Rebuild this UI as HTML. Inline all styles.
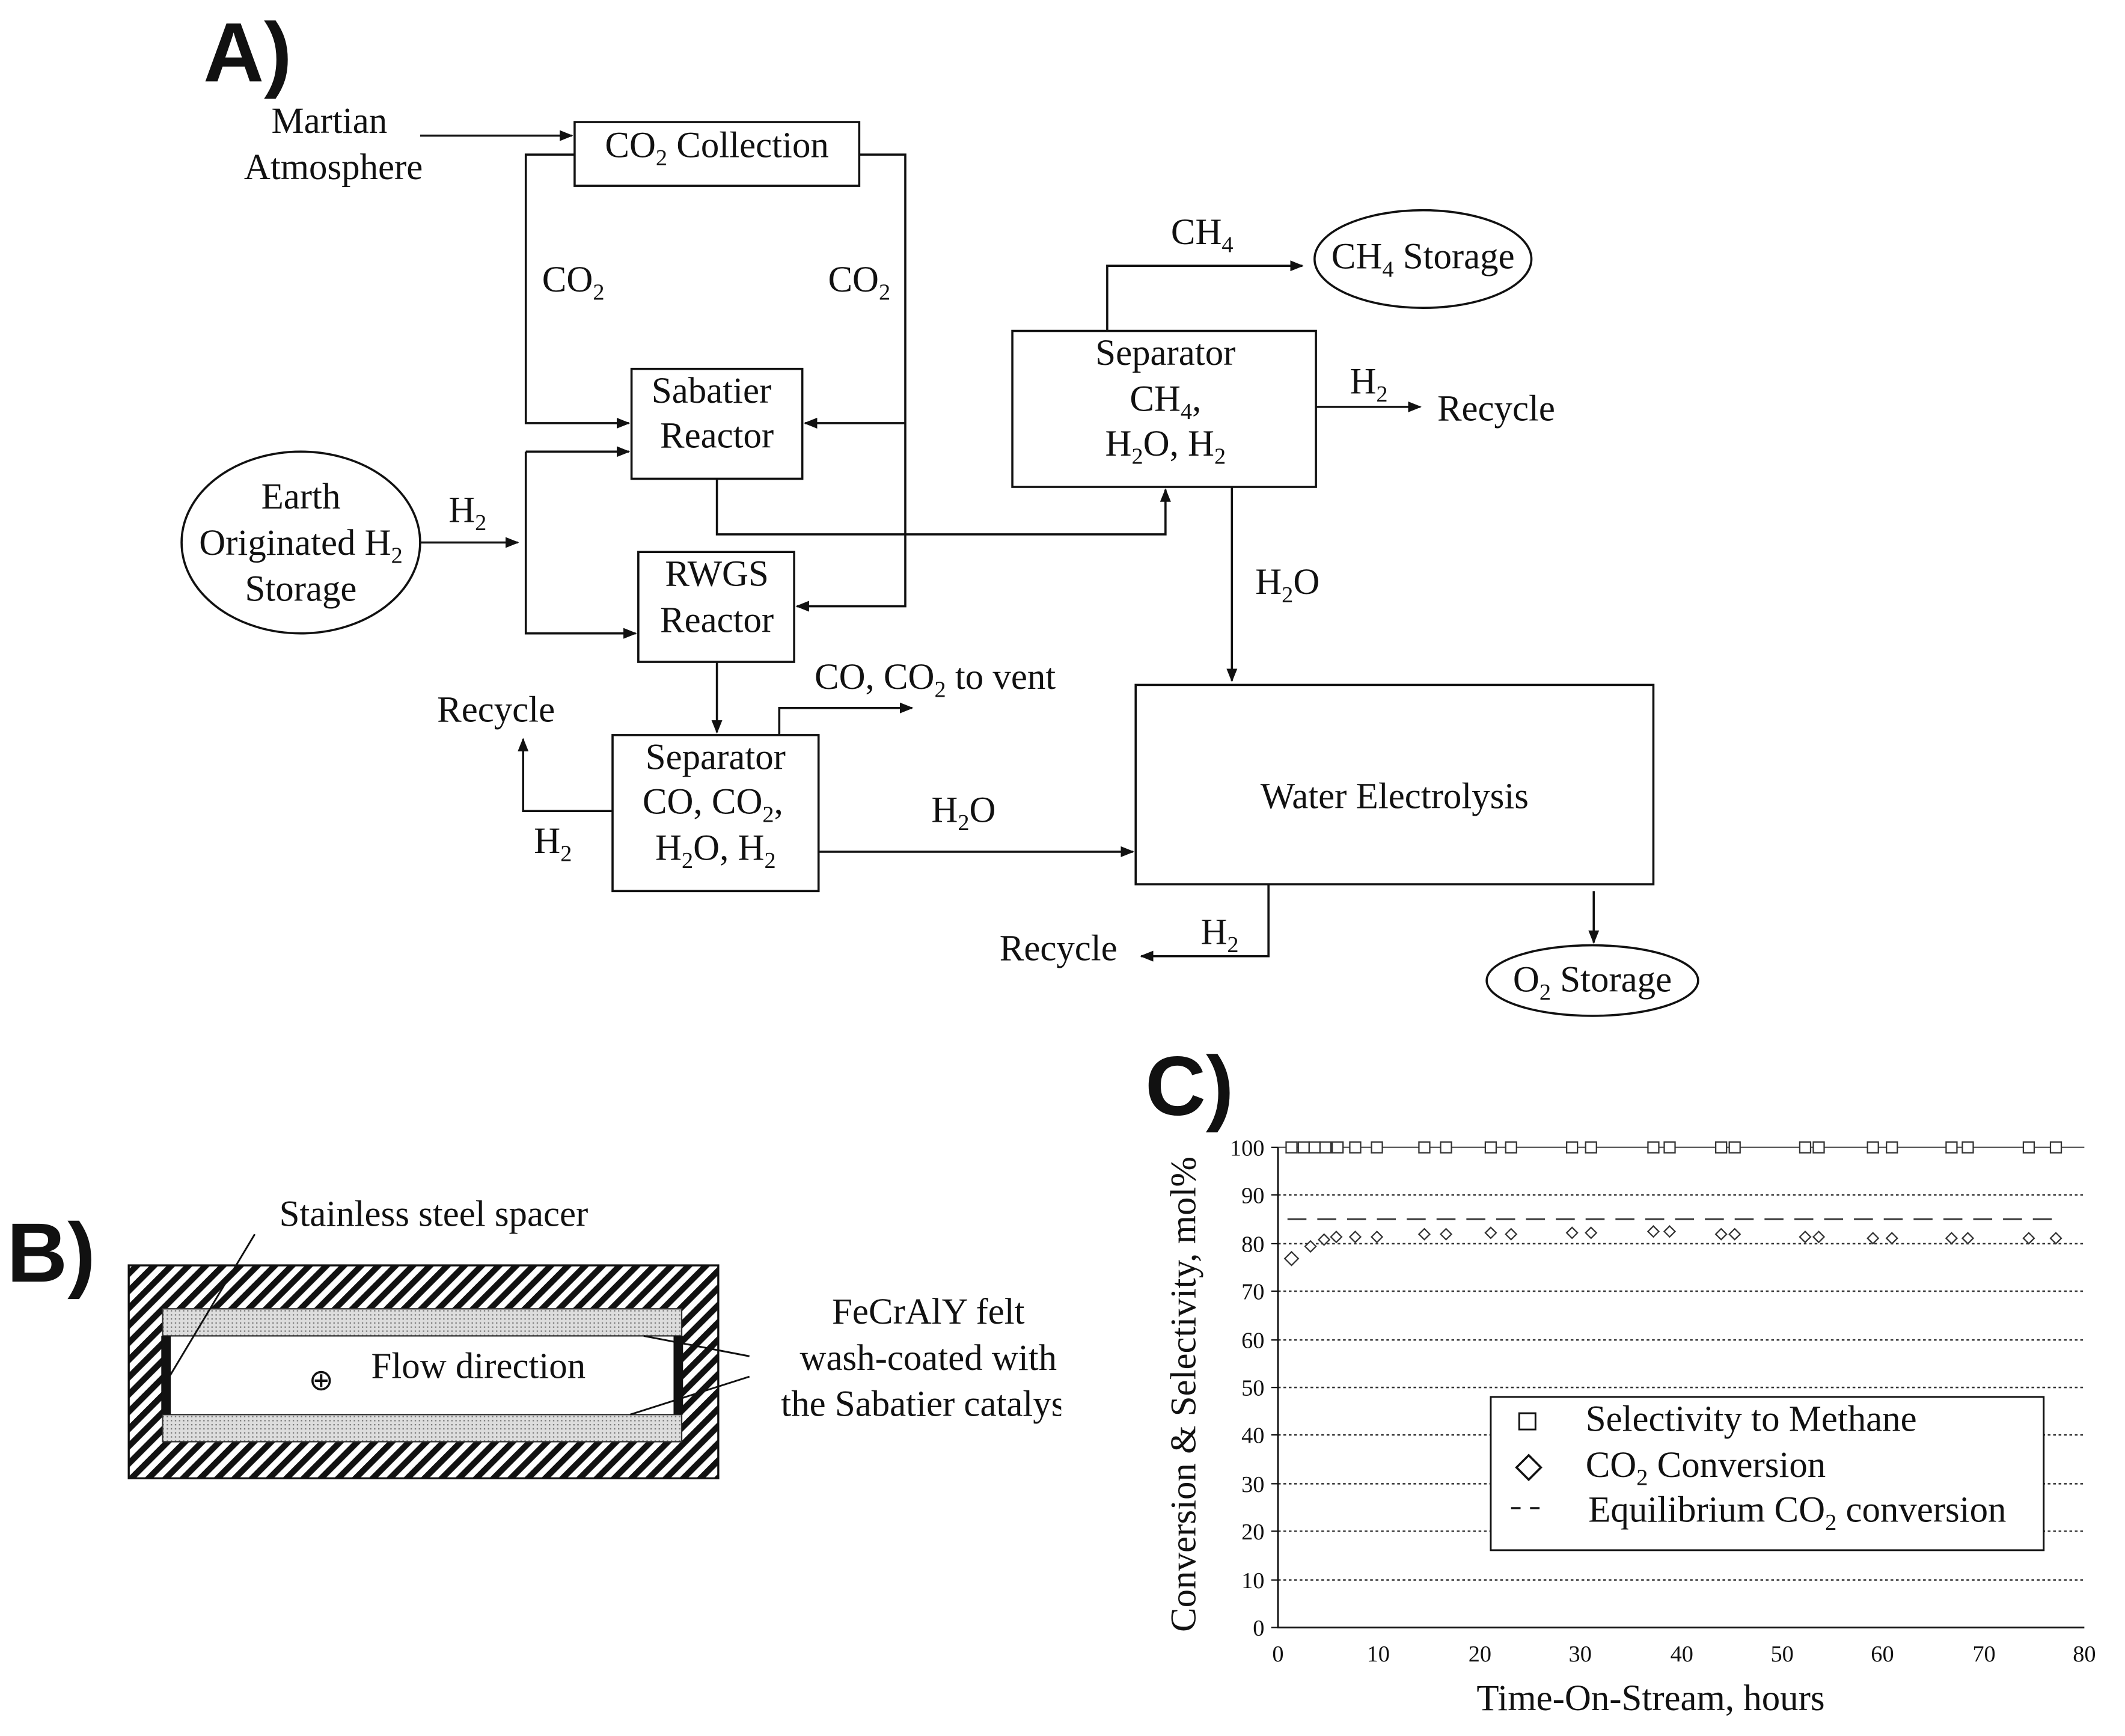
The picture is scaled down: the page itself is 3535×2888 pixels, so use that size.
<!DOCTYPE html>
<html><head><meta charset="utf-8"><style>
html,body{margin:0;padding:0;background:#fff}
svg{display:block}
text{font-family:"Liberation Serif",serif;fill:#111}
.s{font-size:27px}
.b{font-family:"Liberation Sans",sans-serif;font-weight:bold;font-size:62px}
.t{font-size:17px}
</style></head><body>
<svg width="3535" height="2888" viewBox="0 0 1568 1280" preserveAspectRatio="none" xmlns="http://www.w3.org/2000/svg">
<defs>
<marker id="a" markerWidth="10" markerHeight="8" refX="9" refY="4" orient="auto" markerUnits="userSpaceOnUse"><path d="M0,0 L10,4 L0,8z" fill="#111"/></marker>
<pattern id="h" width="9" height="9" patternUnits="userSpaceOnUse" patternTransform="rotate(45)"><rect width="9" height="9" fill="#fff"/><rect width="4.5" height="9" fill="#111"/></pattern>
<pattern id="g" width="3" height="3" patternUnits="userSpaceOnUse"><rect width="3" height="3" fill="#ddd"/><rect width="1" height="1" fill="#777"/></pattern>
</defs>
<g stroke="#111" stroke-width="1.6" fill="none">
<text class="b" x="150" y="60" stroke="none">A)</text>
<text class="b" x="5" y="945" stroke="none">B)</text>
<text class="b" x="845" y="822" stroke="none">C)</text>
<rect x="424" y="90" width="210" height="47"/>
<rect x="466" y="272" width="126" height="81"/>
<rect x="471" y="407" width="115" height="81"/>
<rect x="747" y="244" width="224" height="115"/>
<rect x="838" y="505" width="382" height="147"/>
<rect x="452" y="542" width="152" height="115"/>
<ellipse cx="222" cy="400" rx="88" ry="67"/>
<ellipse cx="1050" cy="191" rx="80" ry="36"/>
<ellipse cx="1175" cy="723" rx="78" ry="26"/>
<path d="M310,100 H422" marker-end="url(#a)"/>
<path d="M424,114 H388 V312 H464" marker-end="url(#a)"/>
<path d="M634,114 H668 V447 H588" marker-end="url(#a)"/>
<path d="M668,312 H594" marker-end="url(#a)"/>
<path d="M310,400 H382" marker-end="url(#a)"/>
<path d="M388,333 H464" marker-end="url(#a)"/>
<path d="M388,333 V467 H469" marker-end="url(#a)"/>
<path d="M529,353 V394 H860 V361" marker-end="url(#a)"/>
<path d="M817,244 V196 H961" marker-end="url(#a)"/>
<path d="M971,300 H1048" marker-end="url(#a)"/>
<path d="M909,359 V502" marker-end="url(#a)"/>
<path d="M529,488 V540" marker-end="url(#a)"/>
<path d="M575,542 V522 H673" marker-end="url(#a)"/>
<path d="M452,598 H386 V545" marker-end="url(#a)"/>
<path d="M604,628 H836" marker-end="url(#a)"/>
<path d="M936,652 V705 H842" marker-end="url(#a)"/>
<path d="M1176,657 V695" marker-end="url(#a)"/>
</g>
<g class="s" text-anchor="middle">
<text x="243" y="98">Martian</text><text x="246" y="132">Atmosphere</text>
<text x="529" y="116">CO<tspan font-size="17" dy="6">2</tspan><tspan dy="-6"> Collection</tspan></text>
<text x="423" y="215">CO<tspan font-size="17" dy="6">2</tspan></text>
<text x="634" y="215">CO<tspan font-size="17" dy="6">2</tspan></text>
<text x="525" y="297">Sabatier</text><text x="529" y="330">Reactor</text>
<text x="222" y="375">Earth</text>
<text x="222" y="409">Originated H<tspan font-size="17" dy="6">2</tspan></text>
<text x="222" y="443">Storage</text>
<text x="345" y="385">H<tspan font-size="17" dy="6">2</tspan></text>
<text x="529" y="432">RWGS</text><text x="529" y="466">Reactor</text>
<text x="887" y="180">CH<tspan font-size="17" dy="6">4</tspan></text>
<text x="1050" y="198">CH<tspan font-size="17" dy="6">4</tspan><tspan dy="-6"> Storage</tspan></text>
<text x="860" y="269">Separator</text>
<text x="860" y="303">CH<tspan font-size="17" dy="6">4</tspan><tspan dy="-6">,</tspan></text>
<text x="860" y="336">H<tspan font-size="17" dy="6">2</tspan><tspan dy="-6">O, H</tspan><tspan font-size="17" dy="6">2</tspan></text>
<text x="1010" y="290">H<tspan font-size="17" dy="6">2</tspan></text>
<text x="1104" y="310">Recycle</text>
<text x="950" y="438">H<tspan font-size="17" dy="6">2</tspan><tspan dy="-6">O</tspan></text>
<text x="1029" y="596">Water Electrolysis</text>
<text x="690" y="508">CO, CO<tspan font-size="17" dy="6">2</tspan><tspan dy="-6"> to vent</tspan></text>
<text x="366" y="532">Recycle</text>
<text x="528" y="567">Separator</text>
<text x="526" y="600">CO, CO<tspan font-size="17" dy="6">2</tspan><tspan dy="-6">,</tspan></text>
<text x="528" y="634">H<tspan font-size="17" dy="6">2</tspan><tspan dy="-6">O, H</tspan><tspan font-size="17" dy="6">2</tspan></text>
<text x="408" y="629">H<tspan font-size="17" dy="6">2</tspan></text>
<text x="711" y="606">H<tspan font-size="17" dy="6">2</tspan><tspan dy="-6">O</tspan></text>
<text x="900" y="696">H<tspan font-size="17" dy="6">2</tspan></text>
<text x="781" y="708">Recycle</text>
<text x="1175" y="731">O<tspan font-size="17" dy="6">2</tspan><tspan dy="-6"> Storage</tspan></text>
</g>
<rect x="95" y="933" width="435" height="157" fill="url(#h)" stroke="#111" stroke-width="1.5"/>
<rect x="120" y="965" width="383" height="98" fill="#fff"/>
<rect x="120" y="965" width="383" height="20" fill="url(#g)" stroke="#333" stroke-width="1"/>
<rect x="120" y="1043" width="383" height="20" fill="url(#g)" stroke="#333" stroke-width="1"/>
<rect x="119" y="985" width="7" height="58" fill="#111"/>
<rect x="497" y="985" width="7" height="58" fill="#111"/>
<g stroke="#111" stroke-width="1.3"><line x1="188" y1="910" x2="125" y2="1015"/><line x1="553" y1="1000" x2="475" y2="985"/><line x1="553" y1="1015" x2="465" y2="1043"/></g>
<g class="s" text-anchor="middle">
<text x="320" y="904">Stainless steel spacer</text>
<text x="237" y="1025" font-size="22">⊕</text>
<text x="353" y="1016">Flow direction</text>
<svg x="560" y="940" width="223" height="120" overflow="hidden"><text x="125" y="36">FeCrAlY felt</text><text x="125" y="70">wash-coated with</text><text x="125" y="104">the Sabatier catalyst</text></svg>
</g>
<g stroke="#333" stroke-width="1.1" stroke-dasharray="2,2">
<line x1="943" y1="881" x2="1538" y2="881"/><line x1="943" y1="917" x2="1538" y2="917"/><line x1="943" y1="952" x2="1538" y2="952"/><line x1="943" y1="988" x2="1538" y2="988"/><line x1="943" y1="1023" x2="1538" y2="1023"/><line x1="943" y1="1058" x2="1538" y2="1058"/><line x1="943" y1="1094" x2="1538" y2="1094"/><line x1="943" y1="1129" x2="1538" y2="1129"/><line x1="943" y1="1165" x2="1538" y2="1165"/>
</g>
<line x1="943" y1="846" x2="1538" y2="846" stroke="#555" stroke-width="1"/>
<line x1="950" y1="899" x2="1518" y2="899" stroke="#444" stroke-width="1.5" stroke-dasharray="14,8"/>
<path d="M943,846 V1200 H1538" stroke="#111" stroke-width="1.3" fill="none"/>
<g stroke="#111" stroke-width="1"><line x1="938" y1="846" x2="943" y2="846"/><line x1="938" y1="881" x2="943" y2="881"/><line x1="938" y1="917" x2="943" y2="917"/><line x1="938" y1="952" x2="943" y2="952"/><line x1="938" y1="988" x2="943" y2="988"/><line x1="938" y1="1023" x2="943" y2="1023"/><line x1="938" y1="1058" x2="943" y2="1058"/><line x1="938" y1="1094" x2="943" y2="1094"/><line x1="938" y1="1129" x2="943" y2="1129"/><line x1="938" y1="1165" x2="943" y2="1165"/><line x1="938" y1="1200" x2="943" y2="1200"/></g>
<g class="t" text-anchor="end">
<text x="933" y="852">100</text><text x="933" y="887">90</text><text x="933" y="923">80</text><text x="933" y="958">70</text><text x="933" y="994">60</text><text x="933" y="1029">50</text><text x="933" y="1064">40</text><text x="933" y="1100">30</text><text x="933" y="1135">20</text><text x="933" y="1171">10</text><text x="933" y="1206">0</text>
</g>
<g class="t" text-anchor="middle">
<text x="943" y="1225">0</text><text x="1017" y="1225">10</text><text x="1092" y="1225">20</text><text x="1166" y="1225">30</text><text x="1241" y="1225">40</text><text x="1315" y="1225">50</text><text x="1389" y="1225">60</text><text x="1464" y="1225">70</text><text x="1538" y="1225">80</text>
</g>
<text class="s" x="1218" y="1261" text-anchor="middle">Time-On-Stream, hours</text>
<text class="s" transform="translate(882,1028) rotate(-90)" text-anchor="middle">Conversion &amp; Selectivity, mol%</text>
<g fill="#fff" stroke="#333" stroke-width="1">
<rect x="949" y="842" width="8" height="8"/><rect x="958" y="842" width="8" height="8"/><rect x="966" y="842" width="8" height="8"/><rect x="974" y="842" width="8" height="8"/><rect x="983" y="842" width="8" height="8"/><rect x="996" y="842" width="8" height="8"/><rect x="1012" y="842" width="8" height="8"/><rect x="1047" y="842" width="8" height="8"/><rect x="1063" y="842" width="8" height="8"/><rect x="1096" y="842" width="8" height="8"/><rect x="1111" y="842" width="8" height="8"/><rect x="1156" y="842" width="8" height="8"/><rect x="1170" y="842" width="8" height="8"/><rect x="1216" y="842" width="8" height="8"/><rect x="1228" y="842" width="8" height="8"/><rect x="1266" y="842" width="8" height="8"/><rect x="1276" y="842" width="8" height="8"/><rect x="1328" y="842" width="8" height="8"/><rect x="1338" y="842" width="8" height="8"/><rect x="1378" y="842" width="8" height="8"/><rect x="1392" y="842" width="8" height="8"/><rect x="1436" y="842" width="8" height="8"/><rect x="1448" y="842" width="8" height="8"/><rect x="1493" y="842" width="8" height="8"/><rect x="1513" y="842" width="8" height="8"/>
<path d="M953,923 l5,5 l-5,5 l-5,-5z"/><path d="M967,915 l4,4 l-4,4 l-4,-4z"/><path d="M977,910 l4,4 l-4,4 l-4,-4z"/><path d="M986,908 l4,4 l-4,4 l-4,-4z"/><path d="M1000,908 l4,4 l-4,4 l-4,-4z"/><path d="M1016,908 l4,4 l-4,4 l-4,-4z"/><path d="M1051,906 l4,4 l-4,4 l-4,-4z"/><path d="M1067,906 l4,4 l-4,4 l-4,-4z"/><path d="M1100,905 l4,4 l-4,4 l-4,-4z"/><path d="M1115,906 l4,4 l-4,4 l-4,-4z"/><path d="M1160,905 l4,4 l-4,4 l-4,-4z"/><path d="M1174,905 l4,4 l-4,4 l-4,-4z"/><path d="M1220,904 l4,4 l-4,4 l-4,-4z"/><path d="M1232,904 l4,4 l-4,4 l-4,-4z"/><path d="M1270,906 l4,4 l-4,4 l-4,-4z"/><path d="M1280,906 l4,4 l-4,4 l-4,-4z"/><path d="M1332,908 l4,4 l-4,4 l-4,-4z"/><path d="M1342,908 l4,4 l-4,4 l-4,-4z"/><path d="M1382,909 l4,4 l-4,4 l-4,-4z"/><path d="M1396,909 l4,4 l-4,4 l-4,-4z"/><path d="M1440,909 l4,4 l-4,4 l-4,-4z"/><path d="M1452,909 l4,4 l-4,4 l-4,-4z"/><path d="M1497,909 l4,4 l-4,4 l-4,-4z"/><path d="M1517,909 l4,4 l-4,4 l-4,-4z"/>
</g>
<rect x="1100" y="1030" width="408" height="113" fill="#fff" stroke="#111" stroke-width="1.3"/>
<rect x="1121" y="1042" width="12" height="12" fill="#fff" stroke="#111" stroke-width="1.3"/>
<path d="M1128,1073 l9,9 l-9,9 l-9,-9z" fill="#fff" stroke="#111" stroke-width="1.6"/>
<line x1="1115" y1="1112" x2="1142" y2="1112" stroke="#111" stroke-width="1.5" stroke-dasharray="7,7"/>
<g class="s">
<text x="1170" y="1055">Selectivity to Methane</text>
<text x="1170" y="1089">CO<tspan font-size="17" dy="6">2</tspan><tspan dy="-6"> Conversion</tspan></text>
<text x="1172" y="1122">Equilibrium CO<tspan font-size="17" dy="6">2</tspan><tspan dy="-6"> conversion</tspan></text>
</g>
</svg>
</body></html>
